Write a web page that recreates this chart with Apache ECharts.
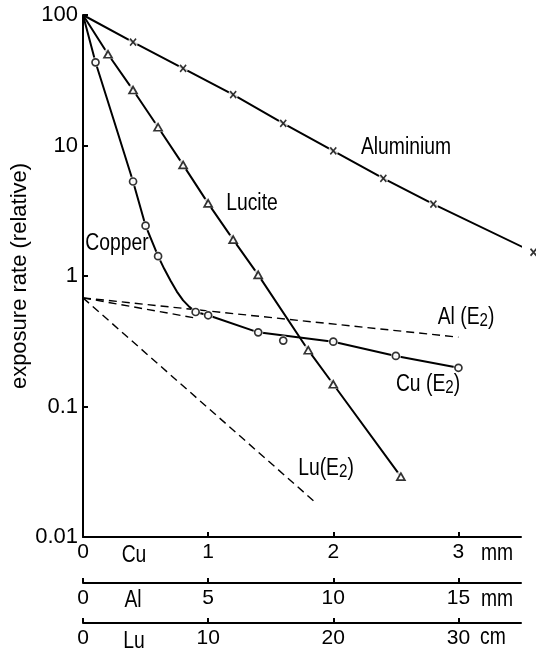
<!DOCTYPE html>
<html><head><meta charset="utf-8">
<script src="https://cdn.jsdelivr.net/npm/echarts@6/dist/echarts.min.js"></script>
<style>html,body{margin:0;padding:0;background:#fff}#c{width:536px;height:653px}</style>
</head><body><div id="c"></div>
<script>
// tick labels of the three stacked thickness axes
const cuTicks = [0, 1, 2, 3];        // mm copper
const alTicks = [0, 5, 10, 15];      // mm aluminium
const luTicks = [0, 10, 20, 30];     // cm lucite

// Aluminium (x in mm Al)
const alThick = [0, 2, 4, 6, 8, 10, 12, 14, 18];
const alRate  = [100, 62, 39, 24.5, 14.8, 9.1, 5.6, 3.55, 1.52];
// Lucite (x in cm Lu)
const luThick = [0, 2, 4, 6, 8, 10, 12, 14, 18, 20, 25.4];
const luRate  = [100, 50, 26.6, 13.8, 7.1, 3.6, 1.9, 1.02, 0.27, 0.148, 0.029];
// Copper measured points (x in mm Cu)
const cuThick = [0.1, 0.4, 0.5, 0.6, 0.9, 1.0, 1.4, 1.6, 2.0, 2.5, 3.0];
const cuRate  = [43.4, 5.3, 2.43, 1.42, 0.53, 0.50, 0.37, 0.32, 0.314, 0.244, 0.198];
// Copper drawn curve (steep part, then the Cu(E2) straight part)
const cuCurveThick = [0, 0.1, 0.25, 0.4, 0.5, 0.6, 0.65, 0.7, 0.75, 0.8, 0.85, 0.9];
const cuCurveRate  = [100, 43.4, 15.2, 5.3, 2.43, 1.42, 1.13, 0.92, 0.76, 0.65, 0.58, 0.53];
const cuTailThick = [0.9, 1.0, 1.4, 2.0, 2.5, 3.0];
const cuTailRate  = [0.53, 0.50, 0.37, 0.314, 0.244, 0.198];
// E2 component extrapolations (dashed)
const alE2Thick = [0, 15];   const alE2Rate = [0.68, 0.34];
const cuE2Thick = [0, 0.88]; const cuE2Rate = [0.68, 0.48];
const luE2Thick = [0, 18.6]; const luE2Rate = [0.68, 0.0183];

const FONT = '"Liberation Sans", Arial, sans-serif';
const pairs = (xs, ys) => xs.map((x, i) => [x, ys[i]]);
const xSym = 'path://M0,0L10,12M10,0L0,12';

function xAxisDef(max, offset, ticks, margin) {
  return {
    type: 'value', min: 0, max: max, position: 'bottom', offset: offset,
    axisLine: { show: true, onZero: false, lineStyle: { color: '#000', width: 2 } },
    axisTick: { show: true, inside: true, length: 5, customValues: ticks, lineStyle: { color: '#000', width: 2 } },
    axisLabel: { customValues: ticks, color: '#000', fontSize: 21, fontFamily: FONT, margin: margin },
    splitLine: { show: false }
  };
}

function lineS(xi, data, extra) {
  return Object.assign({
    type: 'line', xAxisIndex: xi, data: data, showSymbol: false, clip: false,
    silent: true, animation: false, z: 2,
    lineStyle: { color: '#000', width: 2 }
  }, extra || {});
}
function gapS(xi, data, size) {
  return { type: 'scatter', xAxisIndex: xi, data: data, symbol: 'circle', symbolSize: size,
    itemStyle: { color: '#fff', borderWidth: 0 }, clip: false, silent: true, animation: false, z: 3 };
}
function markS(xi, data, symbol, size, fill) {
  return { type: 'scatter', xAxisIndex: xi, data: data, symbol: symbol, symbolSize: size,
    itemStyle: { color: fill, borderColor: '#000', borderWidth: 1.7 }, clip: false, silent: true, animation: false, z: 4 };
}
function lbl(text, x, y, size) {
  return { type: 'text', x: x, y: y, scaleX: 0.84, z: 10,
    style: { text: text, fontSize: size || 23, fontFamily: FONT, fill: '#000',
      align: 'center', verticalAlign: 'middle', lineHeight: 24,
      rich: { s: { fontSize: 18, fontFamily: FONT, lineHeight: 12, verticalAlign: 'bottom', fill: '#000' } } } };
}

const alPts = pairs(alThick, alRate).slice(1);
const luPts = pairs(luThick, luRate).slice(1);
const cuPts = pairs(cuThick, cuRate);
const dash = { lineStyle: { color: '#000', width: 1.4, type: [8, 5] } };

const chart = echarts.init(document.getElementById('c'), null, { renderer: 'canvas' });
chart.setOption({
  animation: false,
  backgroundColor: '#fff',
  grid: { left: 83, right: 15, top: 15, bottom: 116, containLabel: false, outerBoundsMode: 'none' },
  xAxis: [
    xAxisDef(3.5, 0, cuTicks, 5),
    xAxisDef(17.5, 46, alTicks, 5),
    xAxisDef(35, 86, luTicks, 5)
  ],
  yAxis: {
    type: 'log', logBase: 10, min: 0.01, max: 100,
    axisLine: { show: true, lineStyle: { color: '#000', width: 2 } },
    axisTick: { show: true, inside: true, length: 5, lineStyle: { color: '#000', width: 2 } },
    axisLabel: { color: '#000', fontSize: 22, fontFamily: FONT, margin: 5,
      formatter: v => String(+(+v).toPrecision(3)) },
    splitLine: { show: false },
    name: 'exposure rate (relative)', nameLocation: 'middle', nameGap: 52, nameMoveOverlap: false,
    nameTextStyle: { color: '#000', fontSize: 22, fontFamily: FONT }
  },
  series: [
    lineS(1, pairs(alE2Thick, alE2Rate), dash),
    lineS(0, pairs(cuE2Thick, cuE2Rate), dash),
    lineS(2, pairs(luE2Thick, luE2Rate), dash),
    lineS(1, pairs(alThick, alRate)),
    lineS(2, pairs(luThick, luRate)),
    lineS(0, pairs(cuCurveThick, cuCurveRate)),
    lineS(0, pairs(cuTailThick, cuTailRate)),
    gapS(1, alPts, 10),
    gapS(2, luPts, 11),
    gapS(0, cuPts, 10),
    markS(1, alPts, xSym, [6, 7], 'none'),
    markS(2, luPts, 'triangle', [8, 7], '#fff'),
    markS(0, cuPts, 'circle', 7, '#fff')
  ],
  graphic: [
    lbl('Aluminium', 406, 148),
    lbl('Lucite', 252, 204),
    lbl('Copper', 117, 244),
    lbl('Al (E{s|2})', 466, 318),
    lbl('Cu (E{s|2})', 428, 385),
    lbl('Lu(E{s|2})', 326, 469),
    lbl('Cu', 134, 556),
    lbl('mm', 497, 554),
    lbl('Al', 133, 601),
    lbl('mm', 497, 600),
    lbl('Lu', 134, 642),
    lbl('cm', 493, 638)
  ]
});
</script></body></html>
